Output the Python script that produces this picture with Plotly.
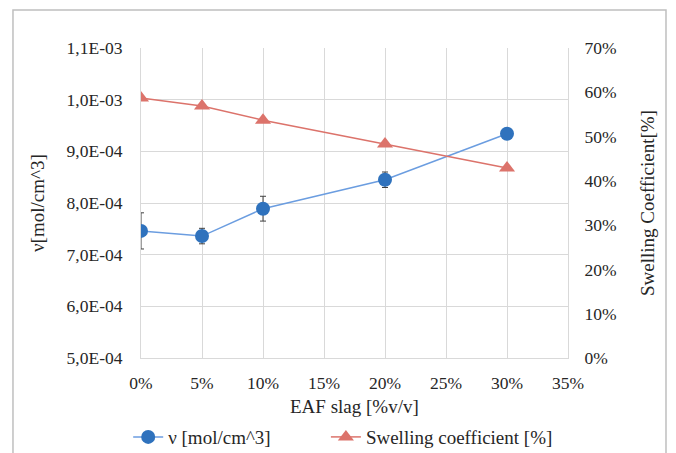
import plotly.graph_objects as go

# Data
slag = [0.0, 0.05, 0.10, 0.20, 0.30]
nu = [7.46e-4, 7.36e-4, 7.89e-4, 8.45e-4, 9.34e-4]
nu_err = [3.5e-5, 1.5e-5, 2.4e-5, 1.5e-5, 0.0]
swelling = [58.7, 56.9, 53.7, 48.3, 42.9]

left_tickvals = [5e-4, 6e-4, 7e-4, 8e-4, 9e-4, 1.0e-3, 1.1e-3]
left_ticktext = ["5,0E-04", "6,0E-04", "7,0E-04", "8,0E-04", "9,0E-04", "1,0E-03", "1,1E-03"]
right_tickvals = [0, 10, 20, 30, 40, 50, 60, 70]
right_ticktext = ["0%", "10%", "20%", "30%", "40%", "50%", "60%", "70%"]

FONT = "Liberation Serif, Tinos, Noto Serif, FreeSerif, DejaVu Serif, Times New Roman, Times, serif"
BLUE = "#2f72bd"
BLUE_LINE = "#6b9de0"
RED = "#dc736b"
GRID = "#d9d9d9"
TXT = "#262626"

fig = go.Figure()
fig.add_trace(go.Scatter(
    x=slag, y=nu, name="ν [mol/cm^3]", mode="lines+markers",
    line=dict(color=BLUE_LINE, width=1.5),
    marker=dict(color=BLUE, size=14, symbol="circle"),
    error_y=dict(type="data", array=nu_err, visible=True, color="#404040", thickness=1, width=3),
    yaxis="y", legend="legend",
))
fig.add_trace(go.Scatter(
    x=slag, y=swelling, name="Swelling coefficient [%]", mode="lines+markers",
    line=dict(color=RED, width=1.5),
    marker=dict(color=RED, size=14, symbol="triangle-up"),
    yaxis="y2", legend="legend2",
))

# page has an 8px body margin, so figure coords = page coords - 8
fig.update_layout(
    width=668, height=445,
    margin=dict(l=133, r=108, t=40, b=95, autoexpand=False),
    paper_bgcolor="white", plot_bgcolor="white",
    font=dict(family=FONT, size=17, color=TXT),
    showlegend=True,
    legend=dict(orientation="h", x=-0.030, xanchor="left", y=-0.255, yanchor="middle",
                font=dict(size=19, family=FONT, color=TXT), itemwidth=30,
                bgcolor="rgba(0,0,0,0)"),
    legend2=dict(orientation="h", x=0.433, xanchor="left", y=-0.255, yanchor="middle",
                 font=dict(size=19, family=FONT, color=TXT), itemwidth=30,
                 bgcolor="rgba(0,0,0,0)"),
    xaxis=dict(range=[0, 0.35], dtick=0.05, tick0=0, tickformat=".0%",
               showgrid=True, gridcolor=GRID, gridwidth=1,
               showline=True, linecolor=GRID, zeroline=False,
               ticks="", ticklabelstandoff=9, tickfont=dict(size=17.5, family=FONT, color=TXT)),
    yaxis=dict(range=[5e-4, 1.1e-3], tickvals=left_tickvals, ticktext=left_ticktext,
               showgrid=True, gridcolor=GRID, gridwidth=1,
               showline=True, linecolor=GRID, zeroline=False,
               ticks="", ticklabelstandoff=14, tickfont=dict(size=17.5, family=FONT, color=TXT)),
    yaxis2=dict(range=[0, 70], tickvals=right_tickvals, ticktext=right_ticktext,
                overlaying="y", side="right", showgrid=False,
                showline=True, linecolor=GRID, zeroline=False,
                ticks="", ticklabelstandoff=12, tickfont=dict(size=17.5, family=FONT, color=TXT)),
    annotations=[
        dict(text="ν[mol/cm^3]", xref="paper", yref="paper", x=-0.2436, y=0.5,
             textangle=-90, showarrow=False, font=dict(size=19, family=FONT, color=TXT),
             xanchor="center", yanchor="middle"),
        dict(text="Swelling Coefficient[%]", xref="paper", yref="paper", x=1.185, y=0.5,
             textangle=-90, showarrow=False, font=dict(size=19, family=FONT, color=TXT),
             xanchor="center", yanchor="middle"),
        dict(text="EAF slag [%v/v]", xref="paper", yref="paper", x=0.5, y=-0.158,
             showarrow=False, font=dict(size=19, family=FONT, color=TXT),
             xanchor="center", yanchor="middle"),
    ],
    shapes=[
        dict(type="path", xref="paper", yref="paper",
             path="M -0.2998,-0.35 L -0.2998,1.1226 L 1.2295,1.1226 L 1.2295,-0.35",
             line=dict(color="#bfbfbf", width=1.5)),
    ],
)

fig.write_html("out.html")
